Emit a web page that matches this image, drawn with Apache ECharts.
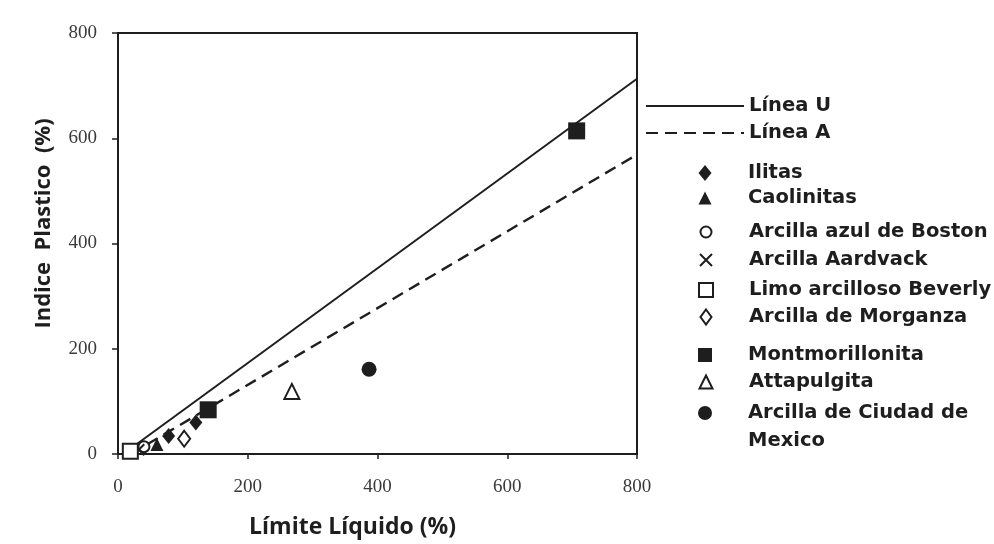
<!DOCTYPE html>
<html>
<head>
<meta charset="utf-8">
<script src="https://cdn.jsdelivr.net/npm/echarts@6/dist/echarts.min.js"></script>
<style>
  html, body { margin: 0; padding: 0; background: #ffffff; }
  #chart { width: 994px; height: 544px; }
</style>
</head>
<body>
<div id="chart"></div>
<script>
// ---- data ----
const xTicks = [0, 200, 400, 600, 800];
const yTicks = [0, 200, 400, 600, 800];
const lineU = [[8, 0], [800, 713]];
const lineA = [[20, 0], [800, 569]];
const ilitas = [[78, 34], [120, 60]];
const caolinitas = [[60, 18]];
const boston = [[40, 14]];
const aardvack = [[32, 8]];
const beverly = [[19, 5]];
const morganza = [[102, 29]];
const montmorillonita = [[139, 84], [707, 614]];
const attapulgita = [[268, 119]];
const mexico = [[387, 161]];

const seriesNames = [
  'Línea U', 'Línea A', 'Ilitas', 'Caolinitas', 'Arcilla azul de Boston',
  'Arcilla Aardvack', 'Limo arcilloso Beverly', 'Arcilla de Morganza',
  'Montmorillonita', 'Attapulgita', 'Arcilla de Ciudad de Mexico'
];

// ---- styles ----
const INK = '#1e1e1e';
const crossPath = 'path://M0,0L10,10M10,0L0,10';

function filled(symbol, size) {
  return { symbol: symbol, symbolSize: size, itemStyle: { color: INK, borderColor: INK, borderWidth: 0, opacity: 1 } };
}
function open(symbol, size) {
  return { symbol: symbol, symbolSize: size, itemStyle: { color: '#ffffff', borderColor: INK, borderWidth: 2, opacity: 1 } };
}

const scatterDefs = [
  { name: seriesNames[2], data: ilitas, s: filled('diamond', [13, 16]), icon: 'diamond', isz: [13, 16] },
  { name: seriesNames[3], data: caolinitas, s: filled('triangle', 13), icon: 'triangle', isz: [13, 13] },
  { name: seriesNames[4], data: boston, s: open('circle', 11), icon: 'circle', isz: [11, 11] },
  { name: seriesNames[5], data: aardvack, s: { symbol: crossPath, symbolSize: 11, itemStyle: { color: 'rgba(0,0,0,0)', borderColor: INK, borderWidth: 2, opacity: 1 } }, icon: crossPath, isz: [12, 12] },
  { name: seriesNames[7], data: morganza, s: open('diamond', [12, 16]), icon: 'diamond', isz: [11, 15] },
  { name: seriesNames[8], data: montmorillonita, s: filled('rect', 17), icon: 'rect', isz: [14, 14] },
  { name: seriesNames[9], data: attapulgita, s: open('triangle', 15), icon: 'triangle', isz: [13, 13] },
  { name: seriesNames[10], data: mexico, s: filled('circle', 15), icon: 'circle', isz: [14, 14] },
  { name: seriesNames[6], data: beverly, s: open('rect', 15), icon: 'rect', isz: [14, 14] }
];

const series = [
  { name: seriesNames[0], type: 'line', data: lineU, showSymbol: false, symbol: 'none',
    lineStyle: { color: INK, width: 2, type: 'solid' }, itemStyle: { color: INK }, z: 2 },
  { name: seriesNames[1], type: 'line', data: lineA, showSymbol: false, symbol: 'none',
    lineStyle: { color: INK, width: 2.4, type: [12, 7] }, itemStyle: { color: INK }, z: 2 }
];
scatterDefs.forEach(function (d) {
  series.push(Object.assign({ name: d.name, type: 'scatter', data: d.data, z: 4 }, d.s));
});

// ---- legend layout (one legend per row, matching the reference rows) ----
const LH = 28;
const TEXT_X = 748;
const legendFont = { fontFamily: 'DejaVu Sans', fontWeight: 'bold', fontSize: 19.5, color: INK, lineHeight: LH };
const legendRows = [
  { name: seriesNames[0], y: 106, line: true },
  { name: seriesNames[1], y: 133, line: true },
  { name: seriesNames[2], y: 173 },
  { name: seriesNames[3], y: 198 },
  { name: seriesNames[4], y: 232 },
  { name: seriesNames[5], y: 260 },
  { name: seriesNames[6], y: 290 },
  { name: seriesNames[7], y: 317 },
  { name: seriesNames[8], y: 355 },
  { name: seriesNames[9], y: 382 },
  { name: seriesNames[10], y: 413, multi: true }
];
const legends = legendRows.map(function (r) {
  if (r.line) {
    return {
      data: [r.name], left: 645, top: r.y - LH / 2, padding: 0,
      itemWidth: 98, itemHeight: 2, selectedMode: false,
      itemStyle: { opacity: 0 },
      textStyle: Object.assign({}, legendFont)
    };
  }
  const def = scatterDefs.find(function (d) { return d.name === r.name; });
  const w = def.isz[0], h = def.isz[1];
  return {
    data: [{ name: r.name, icon: def.icon }], left: 705 - w / 2,
    top: r.multi ? r.y - LH * 1.5 : r.y - LH / 2, padding: 0,
    itemWidth: w, itemHeight: h, selectedMode: false,
    formatter: r.multi ? function () { return ' \nArcilla de Ciudad de\nMexico'; } : undefined,
    textStyle: Object.assign({}, legendFont, {
      padding: [0, 0, 0, TEXT_X - (705 + w / 2 + 5)]
    })
  };
});

const axisLabelStyle = { fontFamily: 'Liberation Serif', fontSize: 19, color: '#3a3a3a' };

const option = {
  animation: false,
  backgroundColor: '#ffffff',
  grid: { left: 118, right: 357, top: 33, bottom: 86, show: true, borderColor: INK, borderWidth: 2, backgroundColor: 'transparent' },
  legend: legends,
  xAxis: {
    type: 'value', min: xTicks[0], max: xTicks[xTicks.length - 1], interval: xTicks[1] - xTicks[0],
    name: 'Límite Líquido (%)', nameLocation: 'middle', nameGap: 62,
    nameTextStyle: { fontFamily: 'Open Sans', fontWeight: 'bold', fontSize: 23, color: INK, padding: [0, 50, 0, 0] },
    axisLine: { show: true, lineStyle: { color: INK, width: 2 } },
    axisTick: { show: true, inside: false, length: 5, lineStyle: { color: INK, width: 1.5 } },
    axisLabel: Object.assign({ margin: 24 }, axisLabelStyle),
    splitLine: { show: false }
  },
  yAxis: {
    type: 'value', min: yTicks[0], max: yTicks[yTicks.length - 1], interval: yTicks[1] - yTicks[0],
    name: 'Indice  Plastico  (%)', nameLocation: 'middle', nameGap: 63,
    nameTextStyle: { fontFamily: 'Open Sans', fontWeight: 'bold', fontSize: 22, color: INK, padding: [0, 0, 0, 40] },
    axisLine: { show: true, lineStyle: { color: INK, width: 2 } },
    axisTick: { show: true, inside: false, length: 6, lineStyle: { color: INK, width: 1.5 } },
    axisLabel: Object.assign({ margin: 21 }, axisLabelStyle),
    splitLine: { show: false }
  },
  series: series
};

const chart = echarts.init(document.getElementById('chart'), null, { renderer: 'canvas' });
chart.setOption(option);
</script>
</body>
</html>
